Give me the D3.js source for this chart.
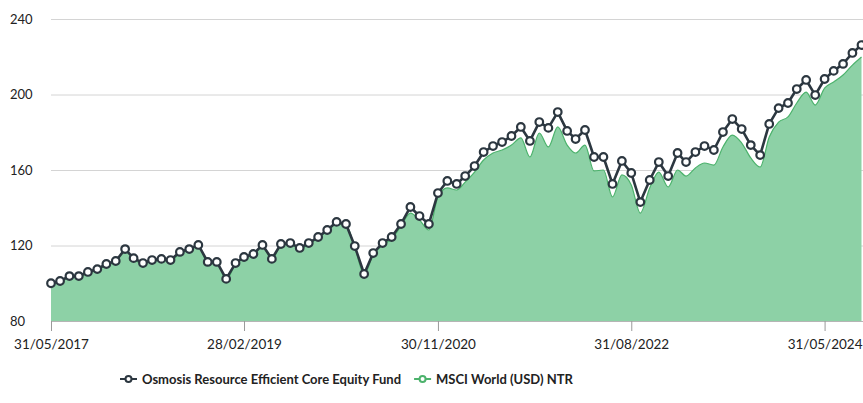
<!DOCTYPE html>
<html><head><meta charset="utf-8">
<script src="https://cdn.jsdelivr.net/npm/d3@7/dist/d3.min.js"></script>
<style>body{margin:0;background:#fff} svg{display:block;font-family:Lato,"Open Sans",sans-serif}</style>
</head><body><svg id="c" width="863" height="403"></svg>
<script>
const months = [
"2017-05","2017-06","2017-07","2017-08","2017-09","2017-10","2017-11","2017-12",
"2018-01","2018-02","2018-03","2018-04","2018-05","2018-06","2018-07","2018-08","2018-09","2018-10","2018-11","2018-12",
"2019-01","2019-02","2019-03","2019-04","2019-05","2019-06","2019-07","2019-08","2019-09","2019-10","2019-11","2019-12",
"2020-01","2020-02","2020-03","2020-04","2020-05","2020-06","2020-07","2020-08","2020-09","2020-10","2020-11","2020-12",
"2021-01","2021-02","2021-03","2021-04","2021-05","2021-06","2021-07","2021-08","2021-09","2021-10","2021-11","2021-12",
"2022-01","2022-02","2022-03","2022-04","2022-05","2022-06","2022-07","2022-08","2022-09","2022-10","2022-11","2022-12",
"2023-01","2023-02","2023-03","2023-04","2023-05","2023-06","2023-07","2023-08","2023-09","2023-10","2023-11","2023-12",
"2024-01","2024-02","2024-03","2024-04","2024-05","2024-06","2024-07","2024-08","2024-09"];
const fundValues = [
100,101.2,103.8,103.8,106.0,107.5,110.2,111.8,118.1,113.3,110.7,112.3,112.9,112.3,116.6,118.1,120.3,111.3,111.3,102.3,
110.7,113.9,115.5,120.3,112.9,120.8,121.3,118.7,121.3,124.5,128.2,132.5,131.4,119.7,104.9,116.0,121.3,124.5,131.4,140.4,
135.6,131.4,147.8,154.2,152.6,156.8,162.1,169.5,172.7,174.8,178.0,182.8,175.4,185.4,182.3,190.7,180.7,176.4,181.2,166.9,
166.9,152.6,164.8,158.4,143.0,154.7,164.2,156.8,169.0,164.2,169.5,172.7,170.6,180.1,187.0,181.7,173.2,167.9,184.4,192.8,
195.5,202.9,207.7,199.7,208.2,212.5,216.2,222.0,226.2];
const msciValues = [
100,100.7,103.3,103.3,105.4,107.0,109.7,111.3,117.6,112.8,110.2,111.8,112.3,111.8,116.0,117.6,119.7,110.7,110.7,101.7,
110.2,113.4,115.0,119.7,112.3,120.3,120.8,118.1,120.8,124.0,127.7,131.9,130.9,119.2,104.9,115.0,120.3,123.4,130.3,137.2,
133.5,128.2,145.7,150.5,149.4,153.6,158.9,165.3,169.0,170.6,173.2,177.0,166.9,179.6,172.2,182.8,173.2,169.0,173.2,159.5,
160.0,145.7,157.4,152.1,137.2,150.5,158.9,151.0,160.0,156.8,161.1,163.7,162.6,172.2,178.5,174.3,166.4,161.6,177.5,185.4,
188.1,195.5,201.3,194.4,203.4,206.6,210.3,215.6,219.9];
const yTicks = [80,120,160,200,240];
const xTickLabels = ["31/05/2017","28/02/2019","30/11/2020","31/08/2022","31/05/2024"];
const seriesNames = ["Osmosis Resource Efficient Core Equity Fund","MSCI World (USD) NTR"];

const fundColor = "#2c3740", msciStroke = "#4cb26c", msciFill = "#8dd1a6";
const svg = d3.select("#c");
const parseM = d3.timeParse("%Y-%m");
const monthEnd = m => d3.timeDay.offset(d3.timeMonth.offset(parseM(m), 1), -1);
const dates = months.map(monthEnd);
const parseTick = d3.timeParse("%d/%m/%Y");

const x = d3.scaleTime().domain([dates[0], dates[dates.length-1]]).range([51, 861.5]);
const y = d3.scaleLinear().domain([80, 240]).range([321, 19]);

// grid + y labels
const ga = svg.append("g").attr("transform","translate(51,0)")
  .call(d3.axisLeft(y).tickValues(yTicks).tickSize(-812).tickPadding(0));
ga.select(".domain").remove();
ga.selectAll(".tick line").attr("stroke","#d4d4d4");
ga.selectAll(".tick text").attr("x",-41).attr("text-anchor","start")
  .attr("fill","#222").style("font-size","13px").style("font-family","Lato,'Open Sans',sans-serif");

const fundData = dates.map((d,i)=>({d, v: fundValues[i]}));
const msciData = dates.map((d,i)=>({d, v: msciValues[i]}));

const area = d3.area().x(p=>x(p.d)).y0(y(80)).y1(p=>y(p.v)).curve(d3.curveMonotoneX);
const line = d3.line().x(p=>x(p.d)).y(p=>y(p.v)).curve(d3.curveMonotoneX);
svg.append("path").datum(msciData).attr("d",area).attr("fill",msciFill);
svg.append("path").datum(msciData).attr("d",line).attr("fill","none").attr("stroke",msciStroke).attr("stroke-width",1.2);

// x axis
const xa = svg.append("g").attr("transform","translate(0,321)")
  .call(d3.axisBottom(x).tickValues(xTickLabels.map(parseTick)).tickFormat((d,i)=>xTickLabels[i]).tickSize(10).tickSizeOuter(0).tickPadding(8));
xa.select(".domain").attr("stroke","#b5b5b5").attr("d","M51,0.5H863");
xa.selectAll(".tick line").attr("stroke","#9a9a9a");
xa.selectAll(".tick text").attr("fill","#222").style("font-size","13.5px").style("font-family","Lato,'Open Sans',sans-serif");

// fund line + markers
const fl = d3.line().x(p=>x(p.d)).y(p=>y(p.v));
svg.append("path").datum(fundData).attr("d",fl).attr("fill","none").attr("stroke",fundColor).attr("stroke-width",2.6).attr("stroke-linejoin","round");
svg.append("g").selectAll("circle").data(fundData).join("circle")
  .attr("cx",p=>x(p.d)).attr("cy",p=>y(p.v)).attr("r",3.8)
  .attr("fill","#fff").attr("stroke",fundColor).attr("stroke-width",2.2);

// legend
const lg = svg.append("g").attr("transform","translate(0,379)");
function legendItem(x0, color, label){
  const g = lg.append("g").attr("transform",`translate(${x0},0)`);
  g.append("line").attr("x1",0).attr("x2",17).attr("y1",0).attr("y2",0).attr("stroke",color).attr("stroke-width",2);
  g.append("circle").attr("cx",8.5).attr("cy",0).attr("r",3).attr("fill","#fff").attr("stroke",color).attr("stroke-width",2);
  const t = g.append("text").attr("x",22).attr("y",0).attr("dy","0.35em").text(label)
    .attr("fill","#222").style("font-size","13px").style("font-weight","700");
  return 22 + t.node().getComputedTextLength();
}
const w1 = legendItem(120, fundColor, seriesNames[0]);
legendItem(120 + w1 + 13, msciStroke, seriesNames[1]);
</script></body></html>
